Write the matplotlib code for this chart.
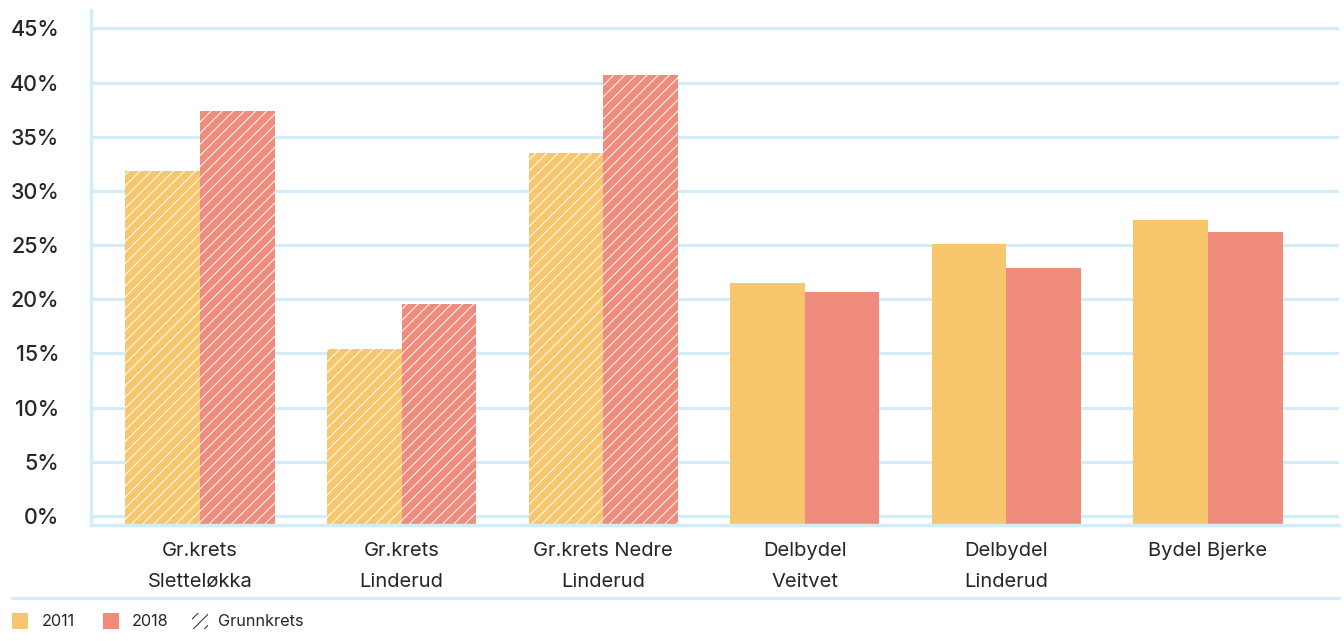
import matplotlib
matplotlib.use("Agg")
from matplotlib import pyplot as plt
from matplotlib.patches import Rectangle
from matplotlib.lines import Line2D

categories = ["Gr.krets\nSletteløkka", "Gr.krets\nLinderud", "Gr.krets Nedre\nLinderud",
              "Delbydel\nVeitvet", "Delbydel\nLinderud", "Bydel Bjerke"]
values_2011 = [31.8, 15.4, 33.5, 21.5, 25.1, 27.3]
values_2018 = [37.4, 19.6, 40.7, 20.7, 22.9, 26.2]
is_grunnkrets = [True, True, True, False, False, False]
y_ticks = [0, 5, 10, 15, 20, 25, 30, 35, 40, 45]

orange = "#F8C66C"
salmon = "#F08C7C"
grid_blue = "#D2ECFA"
text_col = "#262626"

plt.rcParams["font.family"] = ["Inter", "DejaVu Sans"]
plt.rcParams["hatch.linewidth"] = 0.7

fig = plt.figure(figsize=(13.44, 6.41), dpi=100)
ax = fig.add_axes([91 / 1344, 1 - 525 / 641, (1339 - 91) / 1344, (525 - 10) / 641])

y_low, y_high = -0.83, 46.7
width = 0.37
x = list(range(len(categories)))
for i in x:
    hatch = "///" if is_grunnkrets[i] else None
    # 2011 to the left of the category centre, 2018 to the right
    ax.bar(i - width, values_2011[i] - y_low, width=width, bottom=y_low, align="edge",
           color=orange, edgecolor="white", linewidth=0, hatch=hatch, zorder=2)
    ax.bar(i, values_2018[i] - y_low, width=width, bottom=y_low, align="edge",
           color=salmon, edgecolor="white", linewidth=0, hatch=hatch, zorder=2)

ax.set_xlim(-0.541, 5.65)
ax.set_ylim(y_low, y_high)
ax.set_yticks(y_ticks)
ax.set_yticklabels([f"{t}%" for t in y_ticks])
ax.set_xticks(x)
ax.set_xticklabels(categories, linespacing=1.95)
ax.tick_params(axis="y", length=0, pad=23, labelsize=15.5, labelcolor=text_col)
ax.tick_params(axis="x", length=0, pad=12, labelsize=14.5, labelcolor=text_col)
for lbl in ax.get_yticklabels():
    lbl.set_fontweight("medium")

ax.grid(axis="y", color=grid_blue, linewidth=2.2, zorder=0)
ax.set_axisbelow(True)
for side in ["top", "right"]:
    ax.spines[side].set_visible(False)
for side in ["left", "bottom"]:
    ax.spines[side].set_color(grid_blue)
    ax.spines[side].set_linewidth(2.5)
    ax.spines[side].set_zorder(3)

# separator above the legend
fig.add_artist(Line2D([12 / 1344, 1339 / 1344], [1 - 598 / 641] * 2,
                      color=grid_blue, linewidth=2.2))

# legend
sq = 16 / 1344
sqh = 16 / 641
ly = 1 - 629 / 641
ty = 1 - 622 / 641
fig.add_artist(Rectangle((12 / 1344, ly), sq, sqh, facecolor=orange, linewidth=0))
fig.text(42 / 1344, ty, "2011", fontsize=11.7, va="center", color=text_col)
fig.add_artist(Rectangle((103 / 1344, ly), sq, sqh, facecolor=salmon, linewidth=0))
fig.text(132 / 1344, ty, "2018", fontsize=11.7, va="center", color=text_col)
fig.add_artist(Rectangle((192 / 1344, ly), sq, sqh, facecolor="white",
                         edgecolor=text_col, linewidth=0, hatch="///"))
fig.text(218 / 1344, ty, "Grunnkrets", fontsize=11.7, va="center", color=text_col)

fig.savefig("out.png", dpi=100)
